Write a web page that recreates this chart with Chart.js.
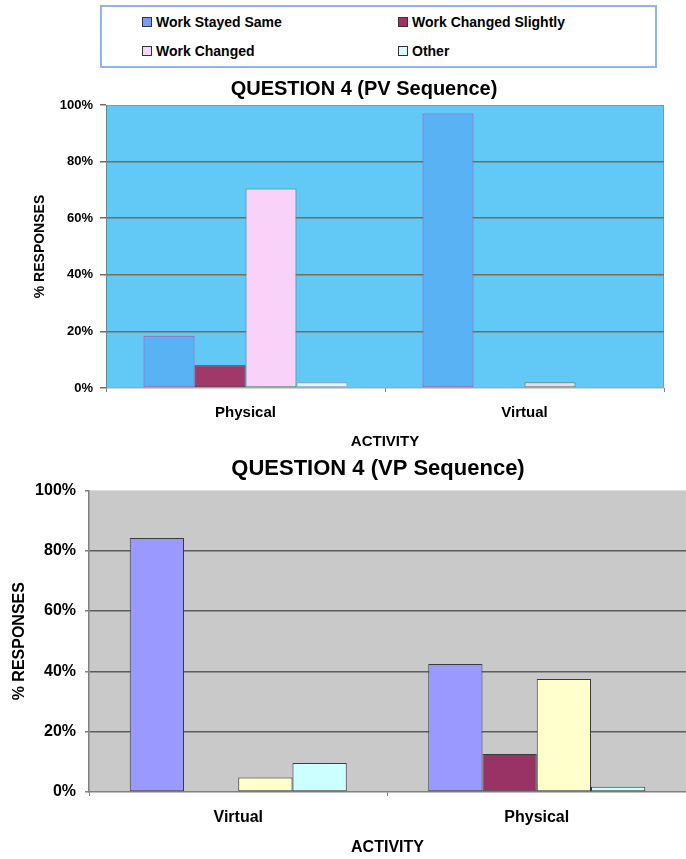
<!DOCTYPE html>
<html>
<head>
<meta charset="utf-8">
<title>Question 4 responses</title>
<script src="https://cdn.jsdelivr.net/npm/chart.js@4/dist/chart.umd.min.js"></script>
<style>
  html, body { margin: 0; padding: 0; background: #fff; }
  body { width: 686px; height: 859px; position: relative; overflow: hidden;
         font-family: "Liberation Sans", Arial, sans-serif; }
  #legend { position: absolute; left: 100px; top: 5px; width: 557px; height: 63px;
            box-sizing: border-box; border: 2px solid #8fb4f4; background: #fff; }
  .item { position: absolute; height: 16px; display: flex; align-items: center;
          font-weight: bold; font-size: 14px; line-height: 16px; color: #000; white-space: nowrap; }
  .sw { width: 8px; height: 8px; border: 1px solid #333; margin-right: 4px; flex: none; }
  .panel { position: absolute; left: 0; }
</style>
</head>
<body>
<div id="legend"></div>
<canvas id="pv" class="panel" style="top:70px" width="686" height="385"></canvas>
<canvas id="vp" class="panel" style="top:455px" width="686" height="404"></canvas>
<script>
// Response categories shared by both charts
const seriesNames = ['Work Stayed Same', 'Work Changed Slightly', 'Work Changed', 'Other'];

// PV sequence (physical activity first), % of responses
const pvActivities = ['Physical', 'Virtual'];
const pvStayedSame = [18.5, 97];
const pvChangedSlightly = [8, 0];
const pvChanged = [70.5, 2];
const pvOther = [2, 0];

// VP sequence (virtual activity first), % of responses
const vpActivities = ['Virtual', 'Physical'];
const vpStayedSame = [84.2, 42.4];
const vpChangedSlightly = [0, 12.6];
const vpChanged = [4.8, 37.5];
const vpOther = [9.6, 1.7];

const FONT = '"Liberation Sans", Arial, sans-serif';
Chart.defaults.font.family = FONT;
Chart.defaults.color = '#000';

// PV chart palette
const pvPlotColor = '#62c8f6';
const pvFills = ['#58b2f4', '#a0386a', '#f8d2f8', '#e2f7ff'];
const pvBorders = ['#b050b0', '#552233', '#5a8a66', '#9a9ad0'];
const legendSwatches = ['#7a9cf0', '#a82f5f', '#f6d6fa', '#dcf8ff'];

// VP chart palette
const vpFills = ['#9999ff', '#993366', '#ffffcc', '#ccffff'];

// Fills the plot area before grid lines and bars are drawn
const plotFill = {
  id: 'plotFill',
  beforeDraw(chart, args, opts) {
    const { ctx, chartArea: a } = chart;
    ctx.save();
    ctx.fillStyle = opts.fill;
    ctx.fillRect(a.left, a.top, a.right - a.left, a.bottom - a.top);
    if (opts.border) {
      ctx.strokeStyle = opts.border;
      ctx.lineWidth = 1;
      ctx.strokeRect(a.left + 0.5, a.top + 0.5, a.right - a.left - 1, a.bottom - a.top - 1);
    }
    ctx.restore();
  }
};

// Moves the title block sideways by a fixed amount
const titleNudge = {
  id: 'titleNudge',
  afterLayout(chart, args, opts) {
    const t = chart.titleBlock;
    if (t && opts.dx) { t.left += opts.dx; t.right += opts.dx; }
  }
};

function bold(size) { return { family: FONT, size: size, weight: 'bold' }; }

// Legend for the PV chart
const legend = document.getElementById('legend');
const legendSpots = [[40, 7], [296, 7], [40, 36], [296, 36]];
seriesNames.forEach((name, i) => {
  const item = document.createElement('div');
  item.className = 'item';
  item.style.left = legendSpots[i][0] + 'px';
  item.style.top = legendSpots[i][1] + 'px';
  const sw = document.createElement('span');
  sw.className = 'sw';
  sw.style.background = legendSwatches[i];
  item.appendChild(sw);
  item.appendChild(document.createTextNode(name));
  legend.appendChild(item);
});

const pvValues = [pvStayedSame, pvChangedSlightly, pvChanged, pvOther];
new Chart(document.getElementById('pv'), {
  type: 'bar',
  data: {
    labels: pvActivities,
    datasets: pvValues.map((vals, i) => ({
      label: seriesNames[i],
      data: vals,
      backgroundColor: pvFills[i],
      borderColor: pvBorders[i],
      borderWidth: 1,
      borderSkipped: false,
      categoryPercentage: 0.731,
      barPercentage: 1
    }))
  },
  options: {
    responsive: false,
    animation: false,
    events: [],
    layout: { padding: { left: 0, right: 22, top: 0, bottom: 0 } },
    plugins: {
      legend: { display: false },
      tooltip: { enabled: false },
      title: { display: true, text: 'QUESTION 4 (PV Sequence)', font: bold(20), color: '#000',
               padding: { top: 7, bottom: 4 } },
      titleNudge: { dx: 32 },
      plotFill: { fill: pvPlotColor, border: '#7d8fd8' }
    },
    scales: {
      x: {
        grid: { display: true, drawOnChartArea: false, drawTicks: true, tickLength: 4, tickColor: '#6f7fb0' },
        border: { display: false },
        ticks: { font: bold(15), color: '#000', padding: 12 },
        title: { display: true, text: 'ACTIVITY', font: bold(15), color: '#000', padding: { top: 0, bottom: 4 } },
        afterFit(s) { s.height = 67; }
      },
      y: {
        min: 0, max: 100,
        ticks: { stepSize: 20, callback: v => v + '%', font: bold(13), color: '#000', padding: 7 },
        grid: {
          color: c => (c.tick && c.tick.value === 100) ? 'rgba(0,0,0,0)'
                    : (c.tick && c.tick.value === 0) ? '#b8a888' : '#7f6a4f',
          lineWidth: 1.5, tickLength: 6, tickColor: '#7f6a4f'
        },
        border: { display: true, color: '#5a8a9a', width: 1 },
        title: { display: true, text: '% RESPONSES', font: bold(14), color: '#000', padding: { top: 32, bottom: 0 } },
        afterFit(s) { s.width = 106; }
      }
    }
  },
  plugins: [plotFill, titleNudge]
});

const vpValues = [vpStayedSame, vpChangedSlightly, vpChanged, vpOther];
new Chart(document.getElementById('vp'), {
  type: 'bar',
  data: {
    labels: vpActivities,
    datasets: vpValues.map((vals, i) => ({
      label: seriesNames[i],
      data: vals,
      backgroundColor: vpFills[i],
      borderColor: '#3a3a3a',
      borderWidth: 1,
      borderSkipped: false,
      categoryPercentage: 0.727,
      barPercentage: 1
    }))
  },
  options: {
    responsive: false,
    animation: false,
    events: [],
    layout: { padding: { left: 0, right: 0, top: 0, bottom: 0 } },
    plugins: {
      legend: { display: false },
      tooltip: { enabled: false },
      title: { display: true, text: 'QUESTION 4 (VP Sequence)', font: bold(22), color: '#000',
               padding: { top: 1, bottom: 8 } },
      titleNudge: { dx: 35 },
      plotFill: { fill: '#c9c9c9' }
    },
    scales: {
      x: {
        grid: { display: true, drawOnChartArea: false, drawTicks: true, tickLength: 4, tickColor: '#808080' },
        border: { display: true, color: '#808080', width: 1.5 },
        ticks: { font: bold(16), color: '#000', padding: 12 },
        title: { display: true, text: 'ACTIVITY', font: bold(16), color: '#000', padding: { top: 0, bottom: 2 } },
        afterFit(s) { s.height = 67; }
      },
      y: {
        min: 0, max: 100,
        ticks: { stepSize: 20, callback: v => v + '%', font: bold(16), color: '#000', padding: 9 },
        grid: {
          color: c => (c.tick && (c.tick.value === 100 || c.tick.value === 0)) ? 'rgba(0,0,0,0)' : '#5c5c5c',
          lineWidth: 1.5, tickLength: 4, tickColor: '#808080'
        },
        border: { display: true, color: '#808080', width: 1.5 },
        title: { display: true, text: '% RESPONSES', font: bold(16), color: '#000', padding: { top: 10, bottom: 0 } },
        afterFit(s) { s.width = 89; }
      }
    }
  },
  plugins: [plotFill, titleNudge]
});
</script>
</body>
</html>
